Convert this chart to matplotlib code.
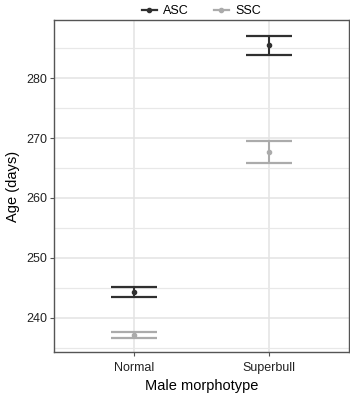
import matplotlib.pyplot as plt
import numpy as np
from matplotlib.lines import Line2D

plt.rcParams['font.family'] = ['Liberation Sans', 'DejaVu Sans']

# Data
morphotypes = ['Normal', 'Superbull']
groups = ['ASC', 'SSC']
mean_age = {'ASC': [244.35, 285.5], 'SSC': [237.2, 267.6]}
upper = {'ASC': [245.2, 287.05], 'SSC': [237.7, 269.55]}
lower = {'ASC': [243.45, 283.9], 'SSC': [236.7, 265.9]}
colors = {'ASC': '#303030', 'SSC': '#ababab'}

fig = plt.figure(figsize=(3.5, 3.95), dpi=100)
ax = fig.add_axes([54 / 350, 43 / 395, 295 / 350, 332 / 395])

x = np.arange(1, len(morphotypes) + 1)
for g in groups:
    m = np.array(mean_age[g])
    lo = m - np.array(lower[g])
    hi = np.array(upper[g]) - m
    ax.errorbar(x, m, yerr=[lo, hi], fmt='o', color=colors[g], markersize=3,
                elinewidth=1.5, capsize=16.5, capthick=1.6, zorder=3)

ax.set_xlim(0.4, 2.6)
ax.set_ylim(234.33, 289.67)
ax.set_xticks(x)
ax.set_xticklabels(morphotypes)
ax.set_yticks([240, 250, 260, 270, 280])
ax.set_yticks([235, 245, 255, 265, 275, 285], minor=True)

ax.grid(True, which='major', color='#e3e3e3', linewidth=1.1)
ax.grid(True, which='minor', axis='y', color='#e8e8e8', linewidth=0.9)
ax.set_axisbelow(True)
for s in ax.spines.values():
    s.set_color('#555555')
    s.set_linewidth(1.0)
ax.tick_params(axis='both', which='major', length=3, color='#555555',
               labelsize=9, labelcolor='#222222', pad=2)
ax.tick_params(axis='x', which='major', pad=4)
ax.tick_params(axis='y', which='minor', length=0)

ax.set_xlabel('Male morphotype', fontsize=10.5, labelpad=4)
ax.set_ylabel('Age (days)', fontsize=10.5, labelpad=4)

handles = [Line2D([0], [0], color=colors[g], marker='o', markersize=3, linewidth=1.6)
           for g in groups]
fig.legend(handles, groups, loc='upper center', bbox_to_anchor=(0.575, 1.015), ncol=2,
           frameon=False, fontsize=9, handlelength=1.2, handletextpad=0.5,
           columnspacing=2.0)

fig.savefig('out.png', dpi=100)
